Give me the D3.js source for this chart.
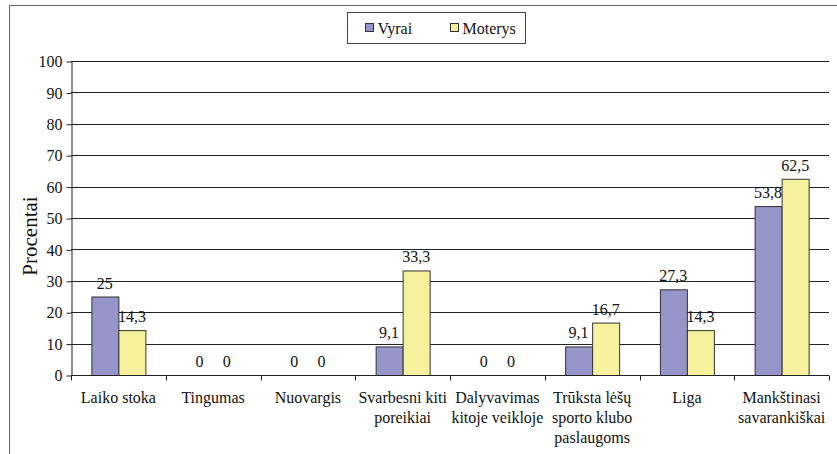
<!DOCTYPE html>
<html lang="lt">
<head>
    <meta charset="UTF-8">
    <title>Procentai</title>
    <script src="https://d3js.org/d3.v7.min.js"></script>
    <style>
        body { margin: 0; background: #fff; }
        svg text { font-family: "Liberation Serif", "Times New Roman", serif; fill: #111; }
    </style>
</head>
<body>
    <div id="chart"></div>

    <script>
        // chart data
        const categories = [
            ["Laiko stoka"],
            ["Tingumas"],
            ["Nuovargis"],
            ["Svarbesni kiti", "poreikiai"],
            ["Dalyvavimas", "kitoje veikloje"],
            ["Trūksta lėšų", "sporto klubo", "paslaugoms"],
            ["Liga"],
            ["Mankštinasi", "savarankiškai"]
        ];
        const seriesNames = ["Vyrai", "Moterys"];
        const vyrai = [25, 0, 0, 9.1, 0, 9.1, 27.3, 53.8];
        const moterys = [14.3, 0, 0, 33.3, 0, 16.7, 14.3, 62.5];
        const yTicks = [0, 10, 20, 30, 40, 50, 60, 70, 80, 90, 100];

        const colors = { "Vyrai": "#9595c9", "Moterys": "#f5f19c" };

        const width = 837, height = 454;
        const plot = { left: 71, right: 829, top: 61, bottom: 375 };

        const svg = d3.select("#chart")
            .append("svg")
            .attr("width", width)
            .attr("height", height);

        // outer frame (cut off at right and bottom like the source)
        svg.append("rect")
            .attr("x", 9.5).attr("y", 5.5)
            .attr("width", width + 20).attr("height", height + 20)
            .attr("fill", "none")
            .attr("stroke", "#666")
            .attr("stroke-width", 1);

        const x = d3.scaleBand()
            .domain(d3.range(categories.length))
            .range([plot.left, plot.right])
            .padding(0);

        // Excel-like 150% gap width
        const xInner = d3.scaleBand()
            .domain(seriesNames)
            .range([x.bandwidth() * 0.215, x.bandwidth() * 0.785]);

        const y = d3.scaleLinear()
            .domain([0, 100])
            .range([plot.bottom, plot.top]);

        // gridlines
        svg.append("g")
            .selectAll("line")
            .data(yTicks.filter(d => d > 0))
            .enter()
            .append("line")
            .attr("x1", plot.left).attr("x2", plot.right)
            .attr("y1", d => Math.round(y(d)) + 0.5)
            .attr("y2", d => Math.round(y(d)) + 0.5)
            .attr("stroke", "#222")
            .attr("stroke-width", 1);

        // y axis
        const yAxis = svg.append("g")
            .attr("transform", `translate(${plot.left + 0.5},0.5)`)
            .call(d3.axisLeft(y).tickValues(yTicks).tickSize(5).tickPadding(4).tickSizeOuter(0));
        yAxis.attr("font-family", null).attr("font-size", null);
        yAxis.select(".domain").attr("stroke", "#222");
        yAxis.selectAll(".tick line").attr("stroke", "#222");
        yAxis.selectAll(".tick text")
            .style("font-size", "16px")
            .attr("fill", "#111");

        // bars
        const rows = categories.map((c, i) => ({ i, values: [vyrai[i], moterys[i]] }));

        const groups = svg.append("g")
            .selectAll("g")
            .data(rows)
            .enter()
            .append("g")
            .attr("transform", d => `translate(${x(d.i)},0)`);

        groups.selectAll("rect")
            .data(d => d.values.map((v, k) => ({ name: seriesNames[k], value: v })))
            .enter()
            .filter(d => d.value > 0)
            .append("rect")
            .attr("x", d => xInner(d.name) + 0.5)
            .attr("y", d => y(d.value) + 0.5)
            .attr("width", xInner.bandwidth())
            .attr("height", d => y(0) - y(d.value))
            .attr("fill", d => colors[d.name])
            .attr("stroke", "#333")
            .attr("stroke-width", 1);

        // value labels
        groups.selectAll("text.val")
            .data(d => d.values.map((v, k) => ({ name: seriesNames[k], value: v })))
            .enter()
            .append("text")
            .attr("class", "val")
            .attr("x", d => xInner(d.name) + xInner.bandwidth() / 2)
            .attr("y", d => y(d.value) - 8)
            .attr("text-anchor", "middle")
            .style("font-size", "16px")
            .text(d => String(d.value).replace(".", ","));

        // x axis
        const xAxis = svg.append("g")
            .attr("transform", `translate(0,${plot.bottom + 0.5})`);
        xAxis.append("line")
            .attr("x1", plot.left).attr("x2", plot.right)
            .attr("stroke", "#222");
        xAxis.selectAll("line.tick")
            .data(d3.range(categories.length + 1))
            .enter()
            .append("line")
            .attr("class", "tick")
            .attr("x1", i => Math.round(plot.left + i * x.step()) + 0.5)
            .attr("x2", i => Math.round(plot.left + i * x.step()) + 0.5)
            .attr("y1", 0).attr("y2", 5)
            .attr("stroke", "#222");

        const catLabels = xAxis.selectAll("text.cat")
            .data(categories)
            .enter()
            .append("text")
            .attr("class", "cat")
            .attr("text-anchor", "middle")
            .attr("transform", (d, i) => `translate(${x(i) + x.bandwidth() / 2},27)`)
            .style("font-size", "16px");
        catLabels.selectAll("tspan")
            .data(d => d)
            .enter()
            .append("tspan")
            .attr("x", 0)
            .attr("dy", (d, i) => i === 0 ? 0 : 20)
            .text(d => d);

        // y axis title
        svg.append("text")
            .attr("transform", "translate(37,236) rotate(-90)")
            .attr("text-anchor", "middle")
            .style("font-size", "21px")
            .text("Procentai");

        // legend
        const legend = svg.append("g").attr("transform", "translate(347.5,12.5)");
        legend.append("rect")
            .attr("width", 178).attr("height", 31)
            .attr("fill", "#fff")
            .attr("stroke", "#444");
        const items = legend.selectAll("g")
            .data(seriesNames)
            .enter()
            .append("g")
            .attr("transform", (d, i) => `translate(${i === 0 ? 18 : 103},0)`);
        items.append("rect")
            .attr("y", 11)
            .attr("width", 8).attr("height", 8)
            .attr("fill", d => colors[d])
            .attr("stroke", "#333");
        items.append("text")
            .attr("x", 12).attr("y", 21)
            .style("font-size", "16px")
            .text(d => d);
    </script>
</body>
</html>
